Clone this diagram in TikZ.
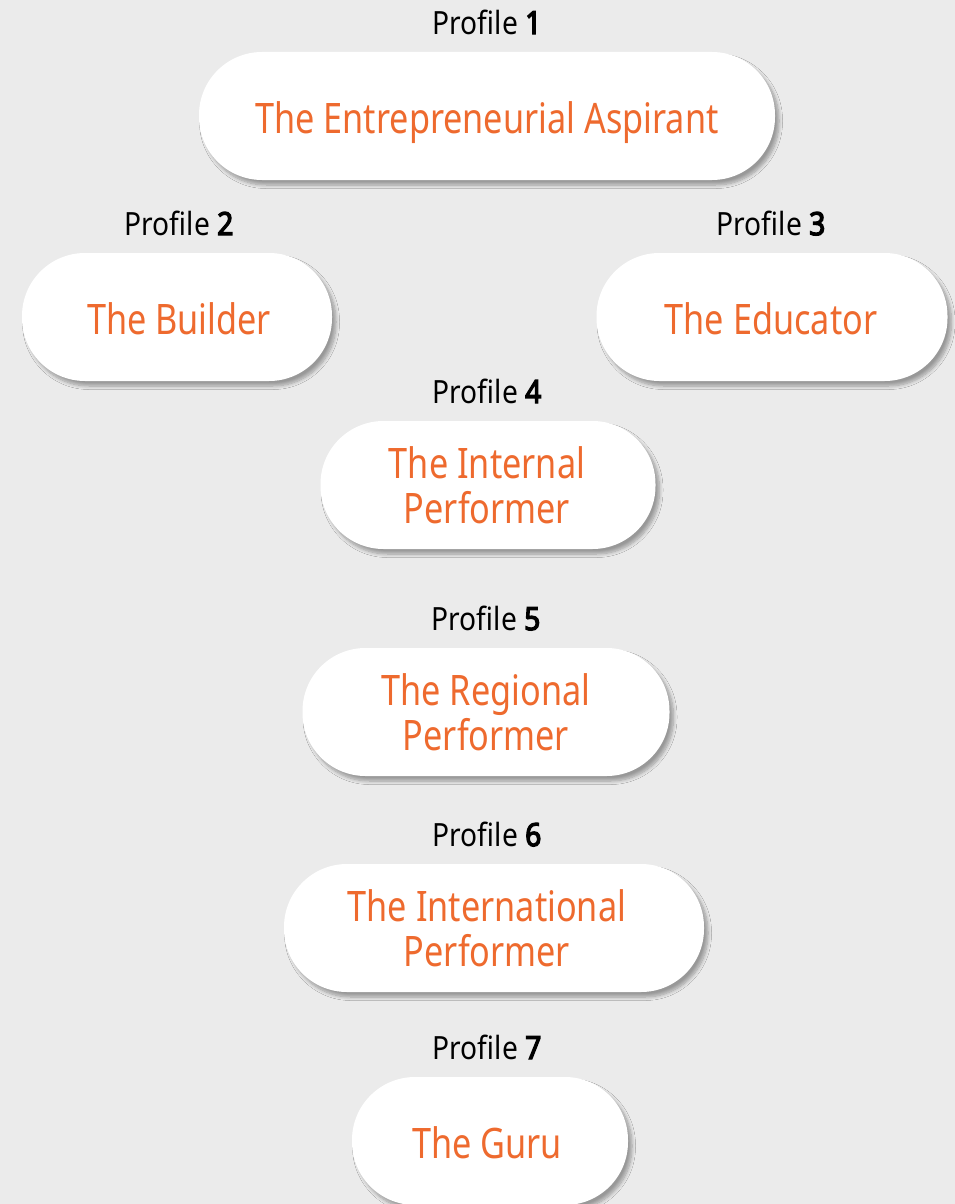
\documentclass[tikz,border=0pt]{standalone}
\usepackage{fontspec}
\setmainfont{Noto Sans}[FakeStretch=0.815]
\newfontfamily\tagfont{Noto Sans}[FakeStretch=0.88,BoldFont={Noto Sans},BoldFeatures={FakeBold=4}]
\usetikzlibrary{positioning,shadows.blur}
\definecolor{accent}{HTML}{EE6A2E}
\definecolor{backdrop}{HTML}{EBEBEB}

\begin{document}
\begin{tikzpicture}[x=1pt,y=1pt,
  pill/.style={rectangle,rounded corners=63pt,fill=white,minimum height=128pt,
    blur shadow={shadow xshift=4pt,shadow yshift=-5pt,shadow blur radius=3.5pt,
      shadow blur steps=8,shadow opacity=35}},
  pilltext/.style={align=center,text=accent,font=\fontsize{42}{45}\selectfont},
  solo/.style={text height=35pt,text depth=0pt},
  duo/.style={},
  tag/.style={font=\tagfont\fontsize{32}{36}\selectfont,inner sep=0pt}]
\fill[backdrop] (0,0) rectangle (955,-1204);
\useasboundingbox (0,0) rectangle (955,-1204);
\foreach \i/\x/\y/\w/\lx/\o/\txt in {
  1/487/116/576/487/solo/{The Entrepreneurial Aspirant},
  2/177/317/310/179/solo/{The Builder},
  3/772/317/351/771/solo/{The Educator},
  4/488/485/335/487/duo/{The Internal\\Performer},
  5/486/712/367/486/duo/{The Regional\\Performer},
  6/494/928/420/487/duo/{The International\\Performer},
  7/490/1141/276/487/solo/{The Guru}}{
  \node[pill,minimum width=\w pt] (p\i) at (\x,-\y) {};
  \node[pilltext,\o] (t\i) at (\lx,-\y) {\txt};
  \node[tag] (l\i) at (\lx,-\y+94) {Profile \textbf{\i}};}
\end{tikzpicture}
\end{document}
